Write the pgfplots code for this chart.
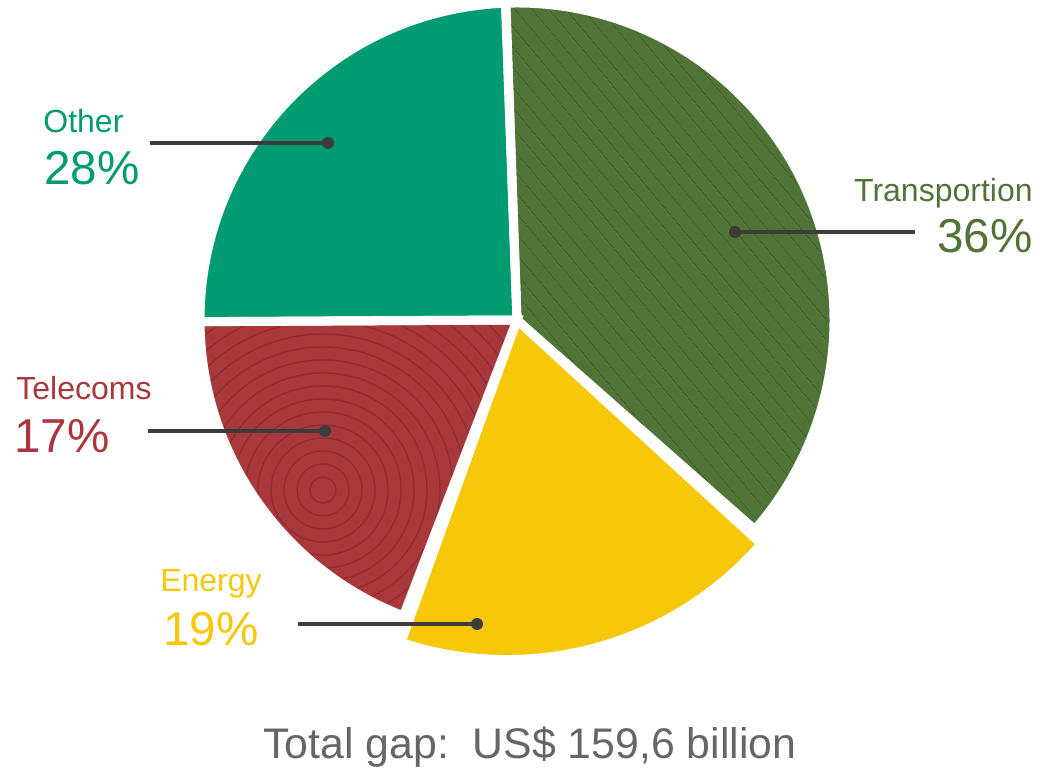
\documentclass[border=0pt]{standalone}
\usepackage{pgfplots}
\pgfplotsset{compat=1.18}
\usepackage{fontspec}
\setmainfont{Liberation Sans}
\usetikzlibrary{patterns.meta}

\definecolor{transp}{RGB}{80,115,55}
\definecolor{transpdark}{RGB}{64,95,42}
\definecolor{energy}{RGB}{247,199,10}
\definecolor{telec}{RGB}{168,56,60}
\definecolor{telecdark}{RGB}{145,44,50}
\definecolor{other}{RGB}{0,155,112}
\definecolor{leader}{RGB}{60,60,60}
\definecolor{totalgray}{RGB}{102,102,102}

% one slice: options, start angle, share (percent of the circle), radius
\newcommand{\pieslice}[4]{%
  \path[#1] (axis cs:517,451) -- ++(#2:#4)
    arc[start angle=#2, delta angle={-3.6*#3}, radius=#4] -- cycle;}

% the Energy slice bulges out a little further than the others
\newcommand{\energyslice}[1]{%
  \path[#1] (axis cs:517,451) -- (axis cs:761.3,227.1)
    arc[start angle=-41.1, end angle=-108.3, radius=168.75pt] -- cycle;}

\newcommand{\leader}[3]{% from x, to x (dot), y
  \draw[leader, line width=2pt] (axis cs:#1,#3) -- (axis cs:#2,#3);
  \fill[leader] (axis cs:#2,#3) circle[radius=3pt];}

\begin{document}
\begin{tikzpicture}
\begin{axis}[
  scale only axis, width=521.5pt, height=385.5pt,
  xmin=0, xmax=1043, ymin=0, ymax=771,
  hide axis, clip=false]

\coordinate (BL) at (axis cs:0,0);
\coordinate (TR) at (axis cs:1043,771);

% slices: start angle, share
\pieslice{fill=transp}{92}{37.06}{158.5pt}
\pieslice{pattern={Lines[angle=-50,distance=6.5pt,line width=0.6pt]}, pattern color=transpdark}{92}{37.06}{158.5pt}
\energyslice{fill=energy}
\pieslice{fill=telec}{-111}{19.08}{158.5pt}
\pieslice{fill=other}{-179.7}{24.5}{158.5pt}

% ring texture on Telecoms
\begin{scope}
  \clip (axis cs:517,451) -- ++(-111:158.5pt)
    arc[start angle=-111, delta angle={-3.6*19.08}, radius=158.5pt] -- cycle;
  \pgfplotsinvokeforeach{1,...,28}{%
    \draw[telecdark, line width=0.7pt] (axis cs:323,281) circle[radius=#1*6.5pt];}
\end{scope}

% white gaps between slices
\pieslice{draw=white, line width=4.5pt}{92}{37.06}{158.5pt}
\energyslice{draw=white, line width=4.5pt}
\pieslice{draw=white, line width=4.5pt}{-111}{19.08}{158.5pt}
\pieslice{draw=white, line width=4.5pt}{-179.7}{24.5}{158.5pt}

% leader lines
\leader{150}{328}{628}
\leader{915}{735}{539}
\leader{148}{325}{340}
\leader{298}{477}{147}

% labels
\node[anchor=base west, inner sep=0, text=other, font=\fontsize{16}{16}\selectfont] at (axis cs:43,638) {Other};
\node[anchor=base west, inner sep=0, text=other, font=\fontsize{23.8}{23.8}\selectfont] at (axis cs:44,586) {28\%};
\node[anchor=base east, inner sep=0, text=transp, font=\fontsize{16}{16}\selectfont] at (axis cs:1033,569) {Transportion};
\node[anchor=base east, inner sep=0, text=transp, font=\fontsize{23.8}{23.8}\selectfont] at (axis cs:1033,518) {36\%};
\node[anchor=base west, inner sep=0, text=telec, font=\fontsize{16}{16}\selectfont] at (axis cs:16,371) {Telecoms};
\node[anchor=base west, inner sep=0, text=telec, font=\fontsize{23.8}{23.8}\selectfont] at (axis cs:14,318) {17\%};
\node[anchor=base, inner sep=0, text=energy, font=\fontsize{16}{16}\selectfont] at (axis cs:211,179) {Energy};
\node[anchor=base, inner sep=0, text=energy, font=\fontsize{23.8}{23.8}\selectfont] at (axis cs:211,126) {19\%};
\node[anchor=base, inner sep=0, text=totalgray, font=\fontsize{21.4}{21.4}\selectfont] at (axis cs:530,13) {Total gap:\ \ US\$ 159,6 billion};

\end{axis}
\pgfresetboundingbox
\path (BL) rectangle (TR);
\end{tikzpicture}
\end{document}
